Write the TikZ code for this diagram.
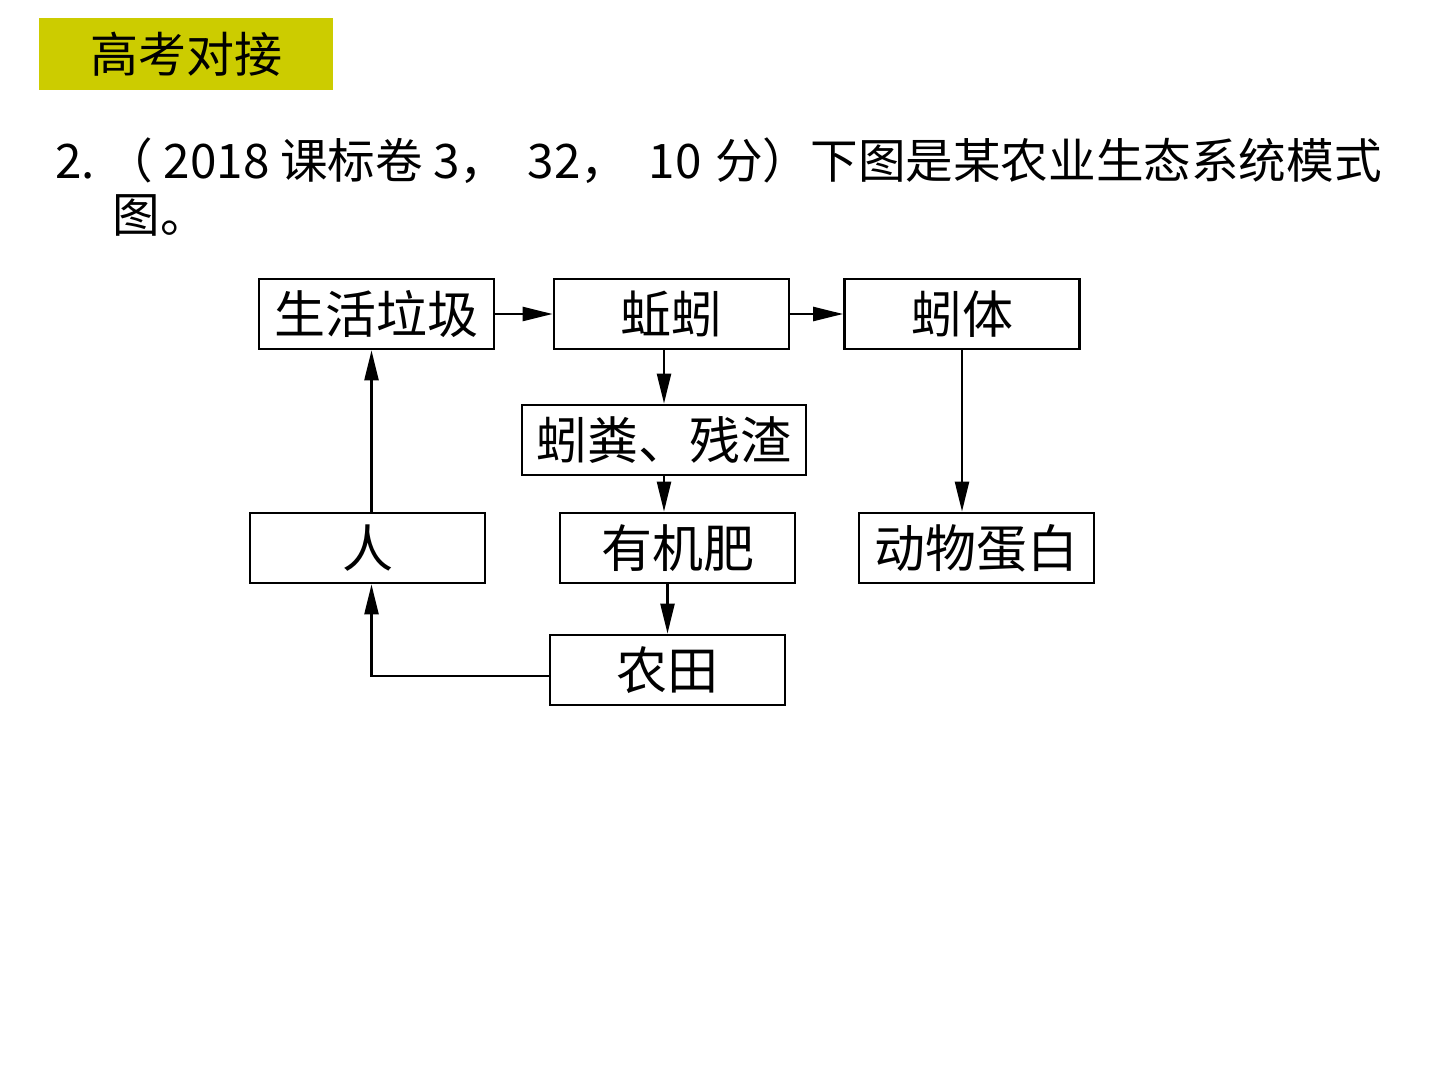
\documentclass[tikz,border=0pt]{standalone}
\usepackage{fontspec}
\usepackage{xcolor}
\setmainfont{Noto Sans CJK SC}
\newfontfamily\cjk{Noto Sans CJK SC}
\usetikzlibrary{arrows.meta,positioning,calc}
\definecolor{headyellow}{RGB}{204,204,0}

\begin{document}
\begin{tikzpicture}[x=0.5pt, y=-0.5pt,
  box/.style={rectangle, draw, line width=1.4pt, minimum height=35pt, minimum width=117.5pt, inner sep=0pt, align=center, font=\cjk\fontsize{25.5pt}{28pt}\selectfont},
  qtext/.style={anchor=west, inner sep=0pt, font=\cjk\fontsize{23.8pt}{26pt}\selectfont},
  arrow/.style={-{Triangle[length=15pt, width=7pt]}, line width=1.2pt}]

  \useasboundingbox (0,0) rectangle (1440,1080);

  % Header tab
  \node[fill=headyellow, minimum width=147pt, minimum height=36pt, inner sep=0pt, font=\cjk\fontsize{24pt}{26pt}\selectfont] (head) at (186,54) {高考对接};

  % Question text
  \node[qtext] (q1) at (55,161) {2.\ （ 2018 课标卷\hspace{5pt}3，\hspace{5pt} 32，\hspace{5pt} 10\hspace{1.5pt} 分）下图是某农业生态系统模式};
  \node[qtext] (q2) at (112,215) {图。};

  % Top row
  \node[box] (garbage) at (376.5,314) {生活垃圾};
  \node[box] (worm) at (671.5,314) {蚯蚓};
  \node[box] (body) at (962,314) {蚓体};

  % Middle
  \node[box, minimum width=142pt] (dung) at (664,440) {蚓粪、残渣};

  % Lower row
  \node[box] (human) at (367.5,548) {人};
  \node[box] (manure) at (677.5,548) {有机肥};
  \node[box] (protein) at (976.5,548) {动物蛋白};

  % Bottom
  \node[box] (field) at (667.5,670) {农田};

  % Arrows
  \draw[arrow] (garbage) -- (worm);
  \draw[arrow] (worm) -- (body);
  \draw[arrow] (worm.south -| dung.north) -- (dung.north);
  \draw[arrow] (dung.south) -- (dung.south |- manure.north);
  \draw[arrow] (manure.south -| field.north) -- (field.north);
  \draw[arrow] (body.south) -- (body.south |- protein.north);
  \draw[arrow] ([xshift=2pt]human.north) -- ([xshift=2pt]human.north |- garbage.south);
  \draw[arrow] ([yshift=-3pt]field.west) -| ([xshift=2pt]human.south);

\end{tikzpicture}
\end{document}
